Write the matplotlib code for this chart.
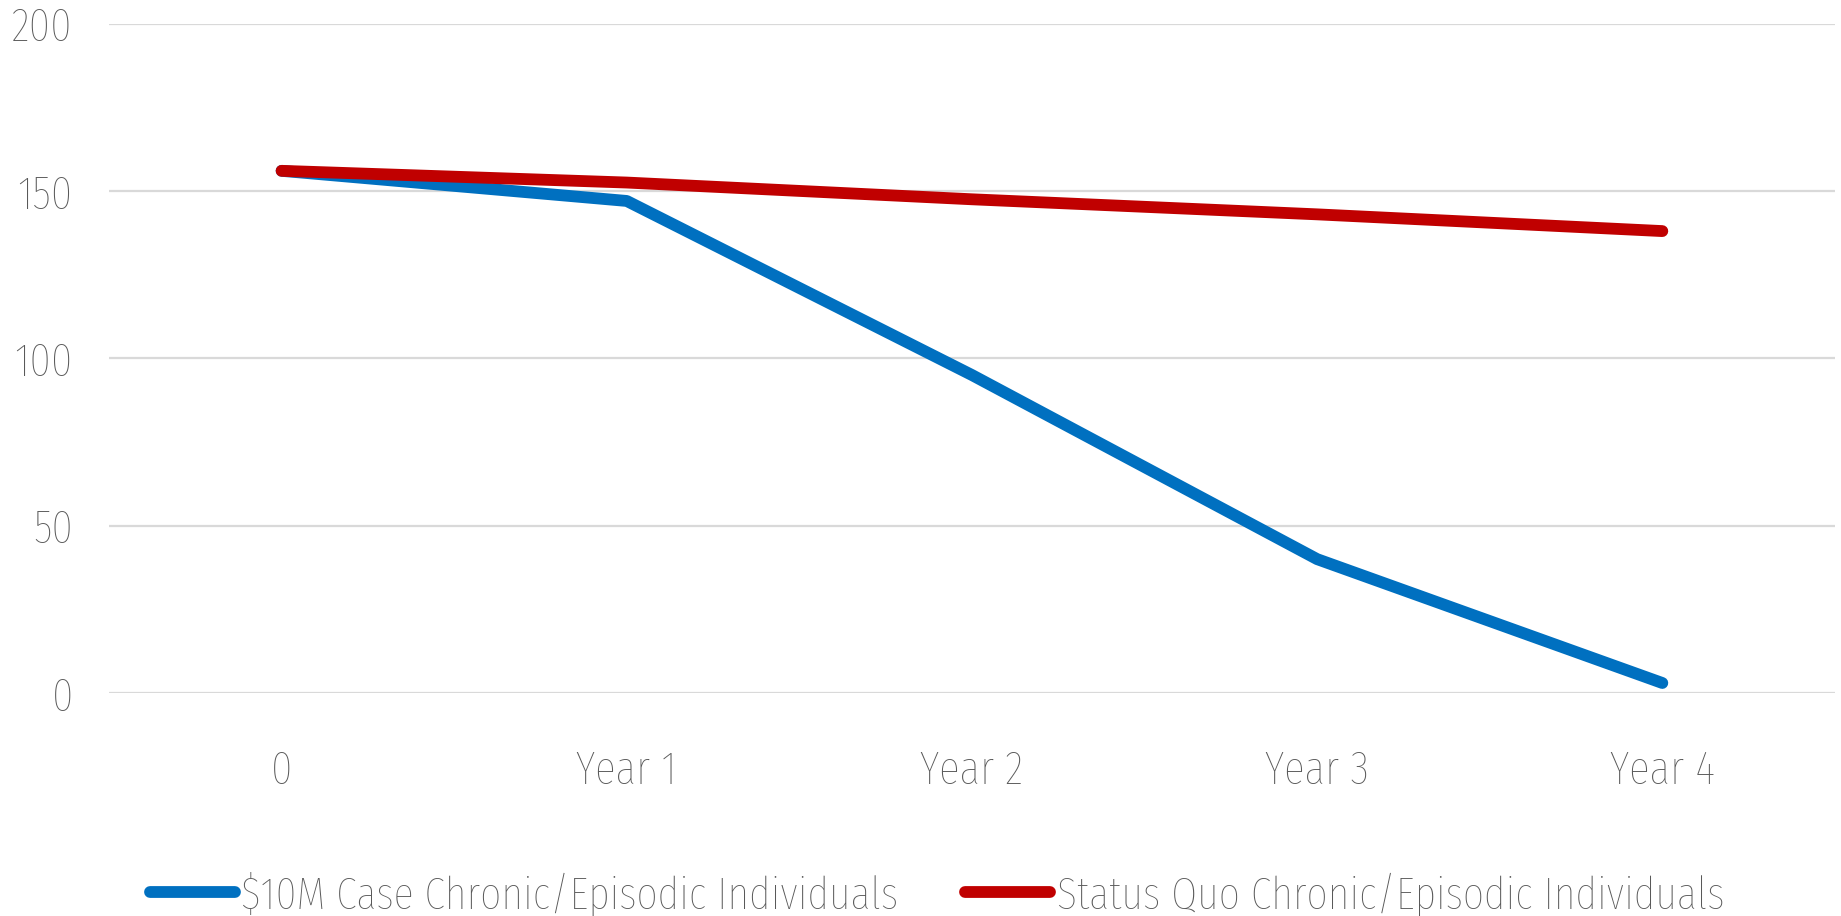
import numpy as np
import matplotlib.pyplot as plt

# Chart data
categories = ['0', 'Year 1', 'Year 2', 'Year 3', 'Year 4']
case_10m = [156, 147, 95, 40, 3]
status_quo = [156, 152.5, 147.5, 143, 138]
yticks = [0, 50, 100, 150, 200]

plt.rcParams['font.family'] = ['Fira Sans Extra Condensed', 'DejaVu Sans']
plt.rcParams['font.weight'] = 'light'
text_color = '#595959'

fig = plt.figure(figsize=(18.41, 9.16), dpi=100)
ax = fig.add_axes([0.0592, 0.2434, 0.9375, 0.7309])

x = np.arange(len(categories))
ax.plot(x, case_10m, color='#0070C0', linewidth=8.5, solid_capstyle='round',
        solid_joinstyle='round', label='$10M Case Chronic/Episodic Individuals', zorder=3)
ax.plot(x, status_quo, color='#C00000', linewidth=8.5, solid_capstyle='round',
        solid_joinstyle='round', label='Status Quo Chronic/Episodic Individuals', zorder=4)

ax.set_xlim(-0.5, len(categories) - 0.5)
ax.set_ylim(0, 200)
ax.set_xticks(x)
ax.set_xticklabels(categories)
ax.set_yticks(yticks)
ax.grid(axis='y', color='#D9D9D9', linewidth=1.6)
ax.set_axisbelow(True)
for s in ax.spines.values():
    s.set_visible(False)
ax.tick_params(axis='both', length=0, colors=text_color, labelsize=34)
ax.tick_params(axis='y', pad=26)
ax.tick_params(axis='x', pad=40)

leg = fig.legend(loc='center', bbox_to_anchor=(937 / 1841, 0.024), ncol=2,
                 frameon=False, fontsize=33, handlelength=1.85, handletextpad=0.15,
                 columnspacing=1.45, labelcolor=text_color)

fig.savefig('out.png', dpi=100)
